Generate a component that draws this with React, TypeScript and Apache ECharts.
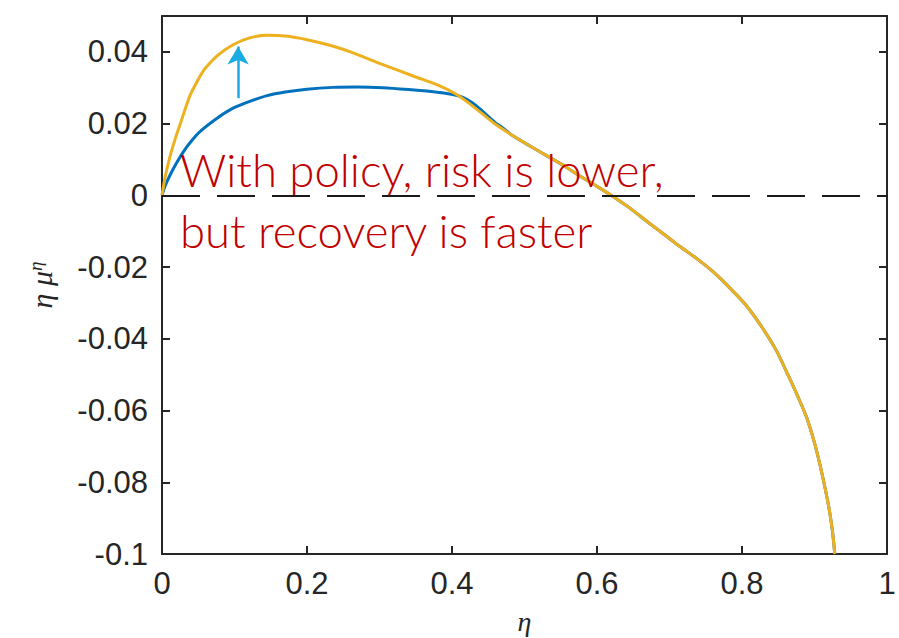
import React, { useEffect, useRef } from "react";
import * as echarts from "echarts";

// Curve without policy (blue)
const etaBlue = [
  0, 0.004, 0.011, 0.02, 0.029, 0.04, 0.052, 0.076, 0.098, 0.121, 0.145, 0.17, 0.2,
  0.236, 0.27, 0.305, 0.34, 0.374, 0.401, 0.415, 0.428, 0.439, 0.45, 0.46, 0.47, 0.484,
  0.508, 0.531, 0.555, 0.577, 0.6, 0.622, 0.645, 0.669, 0.69, 0.714, 0.74, 0.76, 0.783,
  0.805, 0.829, 0.848, 0.866, 0.879, 0.89, 0.9, 0.908, 0.915, 0.921, 0.925, 0.928,
];
const valBlue = [
  0, 0.0025, 0.0056, 0.009, 0.012, 0.015, 0.0177, 0.0215, 0.0243, 0.0262, 0.0278, 0.0288,
  0.0296, 0.0301, 0.0302, 0.03, 0.0295, 0.0289, 0.0281, 0.0273, 0.0258, 0.024, 0.022,
  0.0202, 0.0188, 0.0166, 0.0137, 0.011, 0.0082, 0.0053, 0.0025, -0.0003, -0.0035,
  -0.0073, -0.0105, -0.0142, -0.018, -0.0213, -0.0258, -0.0305, -0.0372, -0.0435,
  -0.0512, -0.057, -0.0624, -0.069, -0.0755, -0.082, -0.0884, -0.094, -0.1,
];

// Curve with policy (orange)
const etaOrange = [
  0, 0.004, 0.011, 0.018, 0.025, 0.039, 0.057, 0.076, 0.098, 0.121, 0.145, 0.17, 0.2,
  0.23, 0.26, 0.3, 0.35, 0.38, 0.404, 0.42, 0.439, 0.46, 0.484, 0.508, 0.531, 0.555,
  0.577, 0.6, 0.622, 0.645, 0.669, 0.69, 0.714, 0.74, 0.76, 0.783, 0.805, 0.829, 0.848,
  0.866, 0.879, 0.89, 0.9, 0.908, 0.915, 0.921, 0.925, 0.928,
];
const valOrange = [
  0, 0.0048, 0.0108, 0.0156, 0.0198, 0.028, 0.0347, 0.0389, 0.042, 0.0439, 0.0446,
  0.0444, 0.0434, 0.0419, 0.04, 0.0368, 0.033, 0.0308, 0.0284, 0.0262, 0.0232, 0.0198,
  0.0166, 0.0137, 0.011, 0.0082, 0.0053, 0.0025, -0.0003, -0.0035, -0.0073, -0.0105,
  -0.0142, -0.018, -0.0213, -0.0258, -0.0305, -0.0372, -0.0435, -0.0512, -0.057,
  -0.0624, -0.069, -0.0755, -0.082, -0.0884, -0.094, -0.1,
];

// Arrow marking the upward shift: [eta, from, to]
const arrowEta = 0.105;
const arrowFrom = 0.0271;
const arrowTo = 0.0415;

const annotation = "With policy, risk is lower,\nbut recovery is faster";

const zip = (xs: number[], ys: number[]) => xs.map((x, i) => [x, ys[i]]);

const AXIS_COLOR = "#262626";
const tickFont = "Liberation Sans, Arial, Helvetica, sans-serif";
const serifItalic = "Liberation Serif, Times New Roman, serif";

const fmt = (v: number) => {
  if (v > 0.045) return "";
  return String(Number(v.toFixed(2)));
};

export default function App() {
  const ref = useRef<HTMLDivElement>(null);

  useEffect(() => {
    if (!ref.current) return;
    const chart = echarts.init(ref.current, undefined, { renderer: "svg" });

    const axisLine = { show: true, onZero: false, lineStyle: { color: AXIS_COLOR, width: 2 } };
    const axisTick = { show: true, inside: true, length: 8, lineStyle: { color: AXIS_COLOR, width: 2 } };

    chart.setOption({
      animation: false,
      backgroundColor: "#ffffff",
      grid: {
        left: 162,
        right: 12,
        top: 16,
        bottom: 84,
        containLabel: false,
        outerBoundsMode: "none",
      },
      xAxis: [
        {
          type: "value",
          min: 0,
          max: 1,
          interval: 0.2,
          position: "bottom",
          name: "η",
          nameLocation: "middle",
          nameGap: 53,
          nameTextStyle: {
            fontFamily: serifItalic,
            fontStyle: "italic",
            fontSize: 28,
            lineHeight: 28,
            color: AXIS_COLOR,
          },
          axisLine,
          axisTick,
          splitLine: { show: false },
          axisLabel: {
            color: AXIS_COLOR,
            fontFamily: tickFont,
            fontSize: 31,
            margin: 14,
            formatter: (v: number) => String(Number(v.toFixed(2))),
          },
        },
        {
          type: "value",
          min: 0,
          max: 1,
          interval: 0.2,
          position: "top",
          axisLine,
          axisTick,
          splitLine: { show: false },
          axisLabel: { show: false },
        },
      ],
      yAxis: [
        {
          type: "value",
          min: -0.1,
          max: 0.05,
          interval: 0.02,
          position: "left",
          name: "{i|η μ}{s|η}",
          nameLocation: "middle",
          nameGap: 106,
          nameTextStyle: {
            rich: {
              i: {
                fontFamily: serifItalic,
                fontStyle: "italic",
                fontSize: 30,
                color: AXIS_COLOR,
              },
              s: {
                fontFamily: serifItalic,
                fontStyle: "italic",
                fontSize: 19,
                color: AXIS_COLOR,
                verticalAlign: "top",
              },
            },
          },
          axisLine,
          axisTick,
          splitLine: { show: false },
          axisLabel: {
            color: AXIS_COLOR,
            fontFamily: tickFont,
            fontSize: 31,
            margin: 14,
            formatter: fmt,
          },
        },
        {
          type: "value",
          min: -0.1,
          max: 0.05,
          interval: 0.02,
          position: "right",
          axisLine,
          axisTick,
          splitLine: { show: false },
          axisLabel: { show: false },
        },
      ],
      series: [
        {
          type: "line",
          data: zip(etaBlue, valBlue),
          showSymbol: false,
          smooth: 0.2,
          lineStyle: { color: "#0072BD", width: 3 },
          itemStyle: { color: "#0072BD" },
          z: 2,
          markLine: {
            silent: true,
            symbol: ["none", "none"],
            label: { show: false },
            lineStyle: { color: "#1a1a1a", width: 2, type: [38, 17] },
            data: [{ yAxis: 0 }],
          },
        },
        {
          type: "line",
          data: zip(etaOrange, valOrange),
          showSymbol: false,
          smooth: 0.2,
          lineStyle: { color: "#EDB120", width: 3 },
          itemStyle: { color: "#EDB120" },
          z: 3,
          markLine: {
            silent: true,
            symbol: ["none", "arrow"],
            symbolSize: [16, 18],
            label: { show: false },
            lineStyle: { color: "#1AABE3", width: 2.5, type: "solid" },
            data: [
              [
                { coord: [arrowEta, arrowFrom] },
                { coord: [arrowEta, arrowTo] },
              ],
            ],
          },
        },
      ],
      graphic: [
        {
          type: "text",
          left: 180,
          top: 139,
          z: 10,
          style: {
            text: annotation,
            fill: "#C00000",
            fontFamily: "Lato, Noto Sans, sans-serif",
            fontWeight: 300,
            fontSize: 45.5,
            lineHeight: 61,
          },
        },
      ],
    });

    return () => chart.dispose();
  }, []);

  return (
    <div
      ref={ref}
      style={{ position: "fixed", left: 0, top: 0, width: 899, height: 638 }}
    />
  );
}
